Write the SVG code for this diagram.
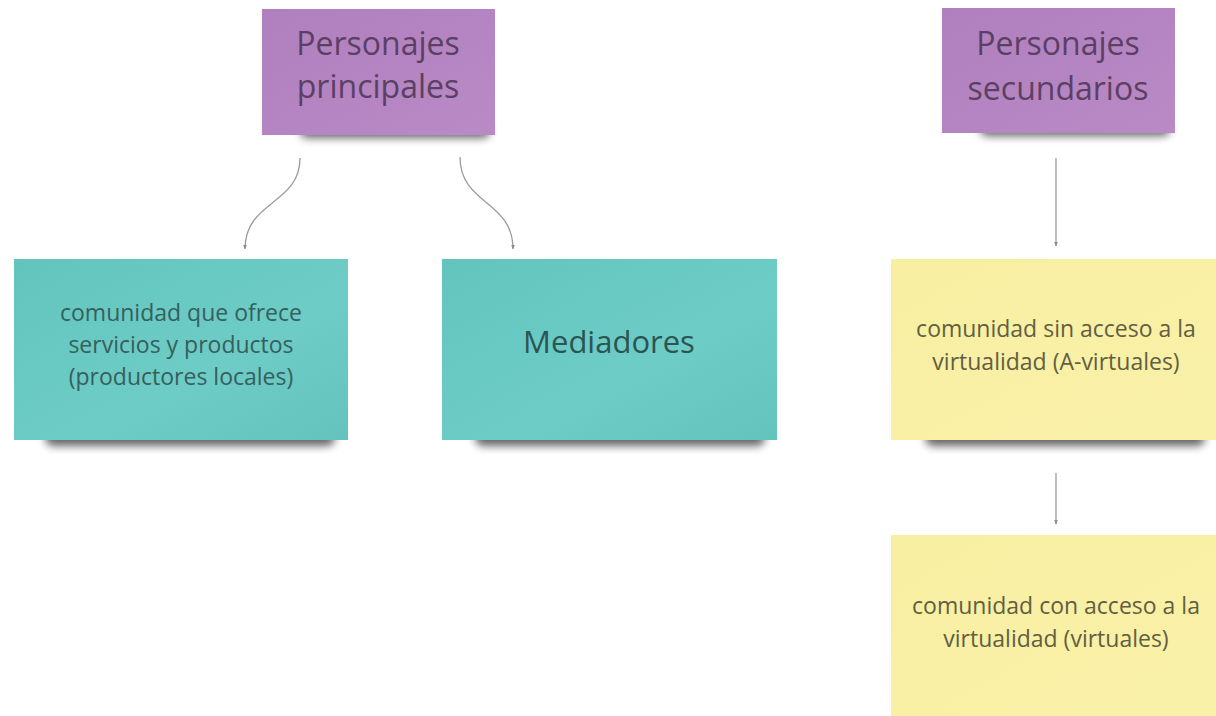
<svg xmlns="http://www.w3.org/2000/svg" width="1216" height="716" viewBox="0 0 1216 716">
<defs>
<filter id="sh" x="-20%" y="-200%" width="140%" height="500%"><feGaussianBlur stdDeviation="4.5"/></filter>
<marker id="ah" viewBox="0 0 10 10" refX="9" refY="5" markerWidth="5" markerHeight="5" orient="auto" markerUnits="userSpaceOnUse">
<path d="M0,1 L10,5 L0,9 Z" fill="#8a8a8a"/>
</marker>
<linearGradient id="gp" x1="0" y1="0" x2="1" y2="1"><stop offset="0" stop-color="#b07fbe"/><stop offset="1" stop-color="#b98ac6"/></linearGradient>
<linearGradient id="gt" x1="0" y1="0" x2="1" y2="1"><stop offset="0" stop-color="#63c4be"/><stop offset="0.6" stop-color="#6dccc6"/><stop offset="1" stop-color="#64c3bd"/></linearGradient>
<linearGradient id="gy" x1="0" y1="0" x2="1" y2="1"><stop offset="0" stop-color="#f8efa2"/><stop offset="1" stop-color="#f9f1a8"/></linearGradient>
</defs>
<style>
text{font-family:"Open Sans","Liberation Sans",sans-serif;text-anchor:middle}
.shadow{fill:#000;opacity:0.6;filter:url(#sh)}
.pt{font-size:32px;fill:#5b4063}
.tt{font-size:23px;fill:#35605d}
.tb{font-size:31px;fill:#2c5452}
.yt{font-size:23px;fill:#625e42}
.con{fill:none;stroke:#9c9c9c;stroke-width:1.3;marker-end:url(#ah)}
</style>
<rect width="1216" height="716" fill="#ffffff"/>
<g id="connectors">
<path class="con" d="M300,158 C300,205 245,200 245,249"/>
<path class="con" d="M460,157 C460,205 513,200 513,249"/>
<path class="con" d="M1056,158 L1056,246"/>
<path class="con" d="M1056,473 L1056,524"/>
</g>
<g id="n-principales">
<rect class="shadow" x="300" y="124" width="190" height="14" rx="7"/>
<rect x="262" y="9" width="233" height="126" fill="url(#gp)"/>
<text class="pt" x="378" y="55">Personajes</text>
<text class="pt" x="378" y="98">principales</text>
</g>
<g id="n-secundarios">
<rect class="shadow" x="980" y="122" width="190" height="14" rx="7"/>
<rect x="942" y="8" width="233" height="125" fill="url(#gp)"/>
<text class="pt" x="1058" y="55">Personajes</text>
<text class="pt" x="1058" y="100">secundarios</text>
</g>
<g id="n-comunidad">
<rect class="shadow" x="45" y="430" width="290" height="16" rx="8"/>
<rect x="14" y="259" width="334" height="181" fill="url(#gt)"/>
<text class="tt" x="181" y="321">comunidad que ofrece</text>
<text class="tt" x="181" y="353">servicios y productos</text>
<text class="tt" x="181" y="385">(productores locales)</text>
</g>
<g id="n-mediadores">
<rect class="shadow" x="475" y="430" width="290" height="16" rx="8"/>
<rect x="442" y="259" width="335" height="181" fill="url(#gt)"/>
<text class="tb" x="609" y="353">Mediadores</text>
</g>
<g id="n-sin-acceso">
<rect class="shadow" x="925" y="430" width="280" height="16" rx="8"/>
<rect x="891" y="259" width="330" height="181" fill="url(#gy)"/>
<text class="yt" x="1056" y="337">comunidad sin acceso a la</text>
<text class="yt" x="1056" y="370">virtualidad (A-virtuales)</text>
</g>
<g id="n-con-acceso">
<rect x="891" y="535" width="330" height="190" fill="url(#gy)"/>
<text class="yt" x="1056" y="614">comunidad con acceso a la</text>
<text class="yt" x="1056" y="647">virtualidad (virtuales)</text>
</g>
</svg>
